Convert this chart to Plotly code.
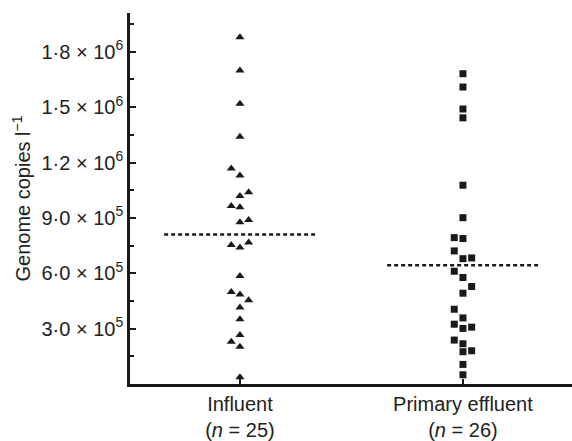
import numpy as np
import plotly.graph_objects as go

# Genome copies per litre, one value per sample
influent = [1.879e6, 1.699e6, 1.519e6, 1.339e6, 1.168e6, 1.130e6, 1.039e6, 1.018e6,
            0.964e6, 0.958e6, 0.877e6, 0.888e6, 0.753e6, 0.739e6, 0.766e6, 0.585e6,
            0.499e6, 0.485e6, 0.454e6, 0.415e6, 0.351e6, 0.265e6, 0.229e6, 0.202e6,
            0.036e6]
influent_col = [0, 0, 0, 0, -1, 0, 1, 0, -1, 0, 0, 1, -1, 0, 1, 0,
                -1, 0, 1, 0, 0, 0, -1, 0, 0]

primary = [1.681e6, 1.609e6, 1.490e6, 1.442e6, 1.077e6, 0.901e6, 0.793e6, 0.788e6,
           0.721e6, 0.679e6, 0.683e6, 0.611e6, 0.577e6, 0.528e6, 0.492e6, 0.405e6,
           0.358e6, 0.324e6, 0.301e6, 0.308e6, 0.238e6, 0.218e6, 0.175e6, 0.180e6,
           0.106e6, 0.050e6]
primary_col = [0, 0, 0, 0, 0, 0, -1, 0, -1, 0, 1, -1, 0, 1, 0, -1,
               0, -1, 0, 1, -1, 0, 0, 1, 0, 0]

groups = ["Influent<br>(<i>n</i> = 25)", "Primary effluent<br>(<i>n</i> = 26)"]
ytick_vals = [3.0e5, 6.0e5, 9.0e5, 1.2e6, 1.5e6, 1.8e6]
ytick_text = ["3·0 × 10<sup>5</sup>", "6·0 × 10<sup>5</sup>", "9·0 × 10<sup>5</sup>",
              "1·2 × 10<sup>6</sup>", "1·5 × 10<sup>6</sup>", "1·8 × 10<sup>6</sup>"]

ink = "#1a1a1a"
step = 0.039      # horizontal spacing between stacked points
half = 0.34       # half-width of the mean line

fig = go.Figure()
for pos, (vals, cols, sym, size) in enumerate([
        (influent, influent_col, "triangle-up", 8),
        (primary, primary_col, "square", 7)]):
    fig.add_trace(go.Scatter(
        x=[pos + c * step for c in cols], y=vals, mode="markers",
        marker=dict(symbol=sym, size=size, color=ink, line=dict(width=0)),
        showlegend=False, hoverinfo="y"))
    m = float(np.mean(vals))
    fig.add_trace(go.Scatter(
        x=[pos - half, pos + half], y=[m, m], mode="lines",
        line=dict(color=ink, width=2.5, dash="4px,3px"),
        showlegend=False, hoverinfo="skip"))

font = dict(family="Liberation Sans, Arial, sans-serif", size=20, color="#222")

fig.update_layout(
    width=572, height=441,
    margin=dict(l=130, r=0, t=13, b=55),
    paper_bgcolor="white", plot_bgcolor="white",
    font=font,
    xaxis=dict(
        range=[-0.493, 1.489], tickvals=[0, 1], ticktext=groups,
        showgrid=False, zeroline=False, showline=True, linecolor=ink, linewidth=2.5,
        ticks="inside", ticklen=5, tickwidth=2, tickcolor=ink,
        tickfont=font),
    yaxis=dict(
        range=[0, 2.01e6], tickvals=ytick_vals, ticktext=ytick_text,
        showgrid=False, zeroline=False, showline=True, linecolor=ink, linewidth=2.5,
        ticks="inside", ticklen=6, tickwidth=2, tickcolor=ink,
        minor=dict(tickvals=[1.5e5, 4.5e5, 7.5e5, 1.05e6, 1.35e6, 1.65e6, 1.95e6],
                   ticks="inside", ticklen=4, tickwidth=2, tickcolor=ink),
        tickfont=font,
        title=dict(text="Genome copies l<sup>−1</sup>", font=font, standoff=6)),
)

fig.write_html("out.html")
